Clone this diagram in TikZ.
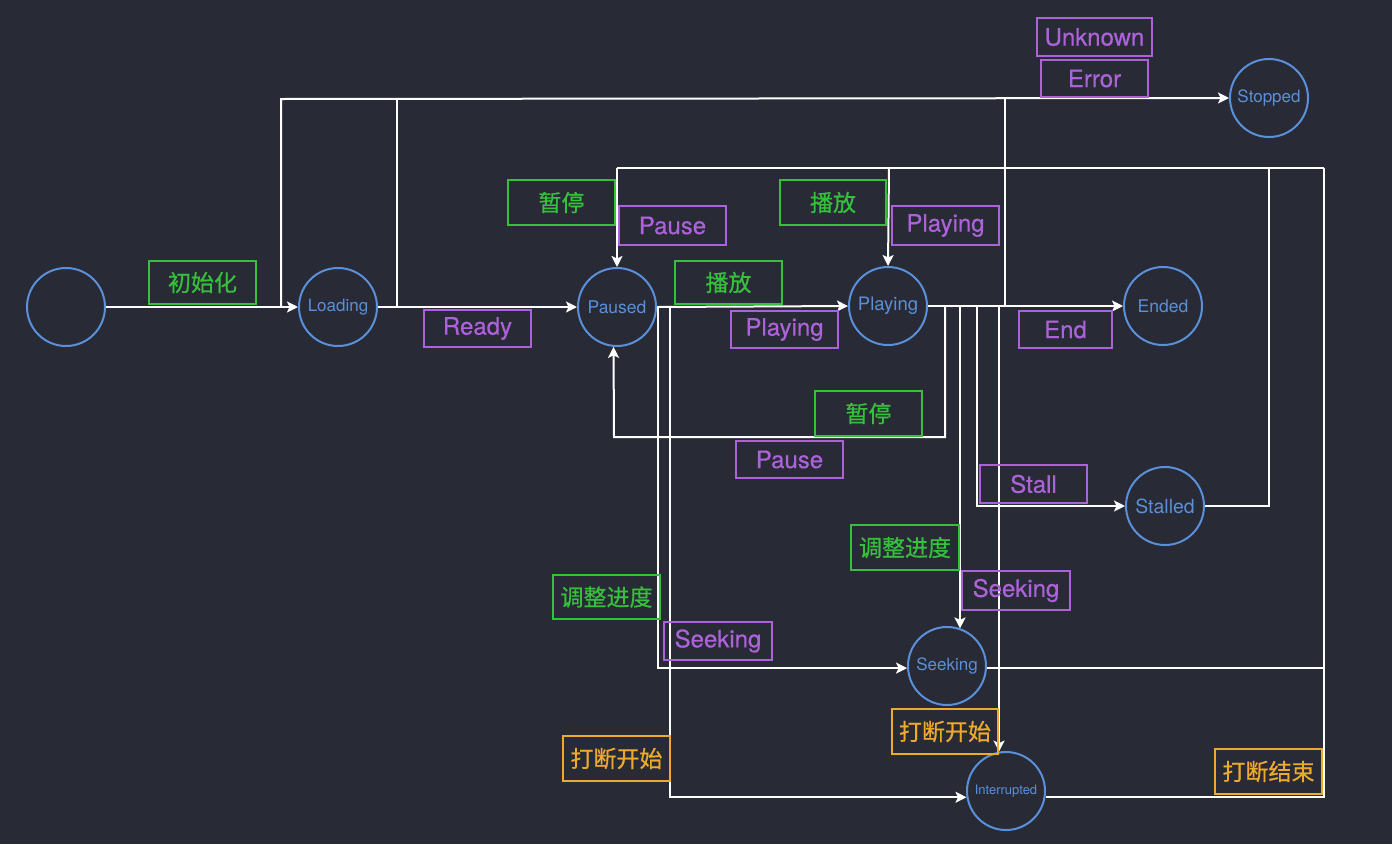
\documentclass[tikz,border=0pt]{standalone}
\usepackage{fontspec}
\setmainfont{TeX Gyre Heros}
\newfontfamily\cjk[FakeBold=0.6]{Noto Sans CJK SC}
\newfontfamily\lat[FakeBold=0.4]{TeX Gyre Heros}
\usetikzlibrary{arrows.meta}
\definecolor{bg}{HTML}{282A36}
\definecolor{nblue}{HTML}{5A90DA}
\definecolor{lgreen}{HTML}{36C03C}
\definecolor{lpurple}{HTML}{AC62D8}
\definecolor{lorange}{HTML}{EEAA2C}
\tikzset{
  state/.style={circle, draw=nblue, line width=2pt, minimum size=78pt, inner sep=0pt, text=nblue},
  lbl/.style={draw, line width=2pt, inner sep=0pt, font=\lat\fontsize{24}{28}\selectfont},
  glab/.style={lbl, draw=lgreen, text=lgreen, font=\cjk\fontsize{23}{28}\selectfont},
  plab/.style={lbl, draw=lpurple, text=lpurple},
  olab/.style={lbl, draw=lorange, text=lorange, font=\cjk\fontsize{23}{28}\selectfont},
  wire/.style={draw=white, line width=2pt},
  arr/.style={wire, -{Stealth[length=11pt,width=11pt,inset=2.5pt]}}
}
\begin{document}
\begin{tikzpicture}[x=1pt,y=-1pt]
\fill[bg] (0,0) rectangle (1392,844);
\useasboundingbox (0,0) rectangle (1392,844);

% states
\node[state] (start) at (66,307) {};
\node[state, font=\fontsize{17}{20}\selectfont] (Loading) at (338,307) {\raisebox{-1pt}{Loading}};
\node[state, font=\fontsize{17.5}{20}\selectfont] (Paused) at (617,307) {\raisebox{-1pt}{Paused}};
\node[state, font=\fontsize{18.5}{20}\selectfont] (Playing) at (888,306) {\raisebox{-1pt}{Playing}};
\node[state, font=\fontsize{17.5}{20}\selectfont] (Ended) at (1163,306) {Ended};
\node[state, font=\fontsize{17}{20}\selectfont] (Stopped) at (1269,98) {\raisebox{-1pt}{Stopped}};
\node[state, font=\fontsize{19.5}{20}\selectfont] (Stalled) at (1165,506) {Stalled};
\node[state, font=\fontsize{17}{20}\selectfont] (Seeking) at (947,666) {\raisebox{-1pt}{Seeking}};
\node[state, font=\fontsize{13}{16}\selectfont] (Interrupted) at (1006,791) {Interrupted};

% junction coordinates
\coordinate (j281) at (281,307);
\coordinate (j397) at (397,307);
\coordinate (top281) at (281,99);
\coordinate (top397) at (397,99);
\coordinate (j658) at (658,307);
\coordinate (j670) at (670,307);
\coordinate (j945) at (945,307);
\coordinate (pb) at (614,437);
\coordinate (j960) at (960,307);
\coordinate (j977) at (977,307);
\coordinate (j999) at (999,307);
\coordinate (j1005) at (1005,307);
\coordinate (top1005) at (1005,99);
\coordinate (t617) at (617,168);
\coordinate (t889) at (889,168);
\coordinate (t1269) at (1269,168);
\coordinate (t1324) at (1324,168);

% main line
\draw[arr] (start.east) -- (Loading.west);
\draw[arr] (Loading.east) -- (Paused.west);
\draw[arr] (Paused.east) -- (Playing.west);
\draw[arr] (Playing.east) -- (Ended.west |- Playing.east);

% to Stopped
\draw[arr] (j281) -- (top281) -- (Stopped.west);
\draw[wire] (j397) -- (top397);
\draw[wire] (j1005) -- (top1005);

% from Paused
\draw[arr] (j658) |- (Seeking.183);
\draw[arr] (j670) |- (Interrupted.189);

% from Playing
\draw[arr] (j945) |- (pb) -- (Paused.265);
\draw[arr] (j960) -- (j960 |- Seeking.70);
\draw[arr] (j977) |- (Stalled.west);
\draw[arr] (j999) -- (j999 |- Interrupted.100);

% back loops
\draw[wire] (Stalled.east) -| (t1269);
\draw[wire] (Seeking.357) -| (t1324);
\draw[wire] (Interrupted.-8) -| (t1324);
\draw[wire] (t1324) -- (t617);
\draw[arr] (t617) -- (Paused.north);
\draw[arr] (t889) -- (Playing.north);

% labels
\node[glab, minimum width=107, minimum height=43] (l1) at (202.5,282.5) {初始化};
\node[plab, minimum width=107, minimum height=37] (l2) at (477.5,328.5) {\raisebox{-2pt}{Ready}};
\node[glab, minimum width=107, minimum height=45] (l3) at (561.5,202.5) {暂停};
\node[plab, minimum width=107, minimum height=39] (l4) at (672.5,225.5) {Pause};
\node[glab, minimum width=107, minimum height=43] (l5) at (728.5,282.5) {播放};
\node[plab, minimum width=107, minimum height=37] (l6) at (784.5,329.5) {\raisebox{-2pt}{Playing}};
\node[glab, minimum width=106, minimum height=45] (l7) at (833,202.5) {播放};
\node[plab, minimum width=107, minimum height=39] (l8) at (945.5,225.5) {\raisebox{-2pt}{Playing}};
\node[glab, minimum width=107, minimum height=45] (l9) at (868.5,413.5) {暂停};
\node[plab, minimum width=107, minimum height=37] (l10) at (789.5,459.5) {Pause};
\node[plab, minimum width=93, minimum height=37] (l11) at (1065.5,329.5) {End};
\node[plab, minimum width=107, minimum height=38] (l12) at (1033.5,484) {Stall};
\node[glab, minimum width=108, minimum height=45] (l13) at (905,547.5) {调整进度};
\node[plab, minimum width=108, minimum height=39] (l14) at (1016,590.5) {\raisebox{-2pt}{Seeking}};
\node[glab, minimum width=107, minimum height=44] (l15) at (606.5,597) {调整进度};
\node[plab, minimum width=108, minimum height=38] (l16) at (718,641) {\raisebox{-2pt}{Seeking}};
\node[olab, minimum width=107, minimum height=45] (l17) at (616.5,758.5) {打断开始};
\node[olab, minimum width=106, minimum height=45] (l18) at (945,731.5) {打断开始};
\node[olab, minimum width=107, minimum height=45] (l19) at (1268.5,771.5) {打断结束};
\node[plab, minimum width=115, minimum height=38] (l20) at (1094.5,37) {Unknown};
\node[plab, minimum width=107, minimum height=37] (l21) at (1094.5,78.5) {Error};
\end{tikzpicture}
\end{document}
